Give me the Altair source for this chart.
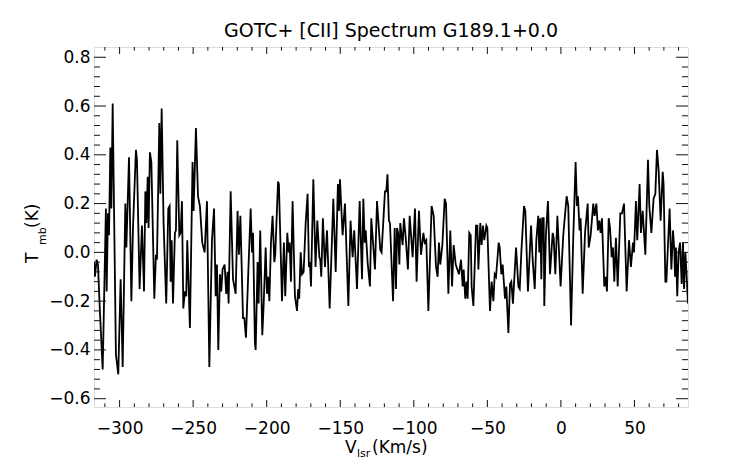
import altair as alt
import pandas as pd

FONT = "DejaVu Sans"

# ---- spectrum values (V_lsr km/s, T_mb K) ----
vel_a = [-317.4, -316.8, -315.6, -314.7, -313.4, -311.5, -309.3, -308.8, -307.9, -307.2,
         -306.3, -305.6, -304.7, -302.5, -300.9, -299.3, -297.9, -296.1, -295.4, -293.6,
         -292.0, -290.9, -288.9, -288.2, -286.4, -284.8, -283.4, -282.5, -281.8, -280.9,
         -280.3, -279.4, -278.4, -276.4, -275.3, -274.6, -273.0, -272.3, -271.4, -270.1,
         -268.3, -266.9, -266.0, -265.3, -264.6, -263.7, -262.4, -261.7, -260.8, -259.4,
         -258.5, -257.6, -256.7, -255.6, -254.7, -254.0, -252.2, -250.4, -249.7, -248.1,
         -246.7, -245.4, -243.8, -242.2, -240.6, -239.0, -237.2, -235.8, -234.7, -233.8,
         -232.9, -231.8, -230.9, -230.0, -228.6, -227.5, -226.6, -225.9, -224.5, -222.9,
         -221.1, -219.8, -218.9, -217.9]
tmb_a = [-0.04, -0.10, -0.03, -0.05, -0.24, -0.48, 0.18, -0.16, 0.16, 0.07,
         0.43, 0.18, 0.61, -0.42, -0.50, -0.11, -0.47, 0.20, 0.02, 0.39,
         -0.20, 0.10, 0.42, 0.38, -0.15, 0.11, -0.16, 0.25, 0.12, 0.31,
         0.10, 0.41, 0.37, -0.19, -0.01, -0.03, 0.53, 0.24, 0.59, 0.12,
         -0.21, 0.18, 0.19, -0.12, 0.05, -0.21, 0.08, 0.09, 0.46, 0.07,
         0.08, 0.21, -0.23, -0.16, -0.18, 0.05, -0.31, 0.37, 0.17, 0.51,
         0.23, 0.19, 0.04, 0.00, 0.21, -0.47, 0.05, 0.18, -0.18, -0.05,
         -0.40, -0.09, -0.16, -0.07, -0.05, -0.17, -0.08, -0.21, 0.25, -0.11,
         -0.17, 0.17, -0.01, 0.15]

vel_b = [-216.1, -215.2, -214.1, -212.5, -210.9, -210.0, -209.3, -208.0, -207.5, -206.2,
         -205.5, -204.4, -203.0, -202.1, -200.7, -199.8, -199.1, -198.2, -197.1, -196.0,
         -194.8, -194.2, -192.3, -191.7, -189.6, -188.3, -187.4, -186.0, -185.1, -184.4,
         -183.5, -182.4, -180.8, -179.4, -178.6, -177.9, -176.9, -176.0, -174.9, -173.5,
         -172.2, -171.3, -170.6, -169.9, -168.3, -166.8, -165.6, -164.2, -163.6, -162.9,
         -161.8, -160.4, -159.0, -157.2, -154.7, -153.1, -151.6, -150.9, -150.2, -148.4,
         -146.8, -144.5, -143.0, -141.6, -140.5, -138.6, -136.8, -135.2, -134.3, -133.4,
         -132.7, -131.4, -129.8, -128.9, -126.4, -125.0, -122.8, -121.9, -119.6, -118.7,
         -117.9]
tmb_b = [-0.27, -0.27, -0.35, -0.08, 0.18, 0.00, 0.08, -0.37, -0.40, -0.04,
         -0.21, 0.09, -0.34, -0.22, 0.02, -0.17, -0.10, -0.20, 0.04, 0.15,
         -0.04, -0.01, 0.29, 0.28, -0.20, 0.04, -0.18, 0.08, 0.00, 0.04,
         -0.12, 0.21, -0.18, -0.24, -0.15, -0.19, 0.00, -0.09, -0.08, 0.12,
         0.24, -0.06, -0.04, -0.14, 0.30, -0.06, 0.13, -0.02, -0.03, -0.10,
         0.14, -0.06, 0.09, -0.23, 0.22, -0.08, 0.28, 0.17, 0.30, 0.07,
         0.20, -0.22, 0.13, -0.02, 0.09, -0.15, 0.21, -0.11, 0.22, 0.04,
         0.09, -0.04, -0.14, 0.14, -0.07, 0.21, 0.01, 0.00, 0.25, 0.25,
         0.32]

vel_c = [-116.9, -116.2, -114.1, -113.0, -112.1, -111.4, -110.7, -109.8, -109.2, -108.3,
         -107.6, -106.7, -105.5, -104.0, -102.8, -100.8, -99.2, -98.1, -96.5, -95.1,
         -93.5, -92.6, -91.5, -90.1, -87.9, -86.5, -84.9, -83.8, -82.9, -82.0,
         -80.6, -79.0, -78.1, -76.5, -75.2, -74.0, -72.9, -71.5, -70.4, -69.3,
         -67.9, -66.8, -66.1, -65.0, -64.1, -63.4, -62.3, -61.3, -60.7, -59.5,
         -57.7, -56.8, -56.1, -54.8, -53.9, -53.0, -52.1, -50.7, -50.0, -48.2,
         -47.1, -45.9, -45.0, -44.1, -42.3, -41.6, -40.5, -39.6, -38.0, -37.1,
         -35.7, -34.6, -33.7, -32.6, -30.5, -28.9, -28.0, -26.9, -25.1, -24.2,
         -22.4, -20.3, -19.2, -17.8, -16.7]
tmb_c = [0.13, 0.12, -0.20, 0.10, -0.15, 0.10, 0.08, -0.05, 0.12, 0.07,
         0.03, 0.14, 0.06, -0.07, 0.15, -0.02, 0.18, -0.12, 0.17, -0.01,
         0.08, 0.04, 0.05, -0.24, 0.19, 0.15, -0.06, -0.10, 0.04, -0.05,
         0.03, 0.22, 0.20, -0.17, 0.09, -0.14, 0.03, -0.05, -0.07, -0.09,
         -0.03, -0.14, -0.07, -0.19, -0.12, -0.19, 0.08, 0.07, -0.14, -0.22,
         0.11, 0.11, -0.07, 0.12, 0.03, 0.11, 0.05, 0.11, 0.10, -0.24,
         -0.12, -0.20, -0.09, -0.10, 0.04, 0.02, -0.09, -0.05, -0.19, -0.14,
         -0.33, -0.13, -0.12, -0.21, 0.02, -0.14, -0.15, 0.00, 0.19, 0.17,
         -0.16, 0.11, -0.03, -0.15, 0.05]

vel_d = [-15.4, -14.7, -14.0, -13.3, -12.6, -11.7, -11.3, -10.2, -8.8, -7.4,
         -5.6, -4.9, -3.8, -2.4, -0.2, 1.6, 3.9, 5.0, 6.9, 8.4,
         10.0, 10.9, 11.6, 12.7, 13.4, 14.8, 16.4, 18.2, 18.9, 20.2,
         22.0, 22.9, 24.1, 25.2, 26.1, 27.0, 27.9, 29.5, 30.4, 31.3,
         32.5, 33.4, 34.5, 35.4, 36.3, 37.4, 38.6, 40.4, 41.5, 42.9,
         44.7, 46.3, 47.6, 49.0, 49.7, 51.0, 51.9, 53.5, 54.4, 55.6,
         57.4, 59.2, 60.1, 61.5, 63.0, 64.2, 65.3, 66.4, 67.8, 69.2,
         69.8, 71.0, 71.7, 73.9, 75.1, 76.2, 77.1, 77.6, 78.2, 79.1,
         80.0, 81.0, 82.1, 83.0, 83.7, 84.6, 85.5, 86.4]
tmb_d = [0.15, 0.00, 0.14, -0.11, 0.14, 0.14, -0.22, 0.07, 0.21, -0.09,
         0.08, 0.06, -0.09, 0.15, -0.14, 0.07, 0.23, 0.19, -0.30, 0.06,
         0.37, 0.19, 0.23, 0.09, 0.14, -0.17, 0.08, 0.20, 0.02, 0.07,
         0.20, 0.15, 0.20, 0.09, 0.13, 0.08, 0.14, -0.14, -0.10, -0.16,
         0.14, 0.10, -0.02, 0.02, -0.12, 0.06, -0.14, 0.16, 0.16, 0.20,
         -0.16, 0.05, -0.06, 0.04, 0.00, 0.21, 0.05, 0.28, 0.08, 0.17,
         -0.01, 0.38, 0.19, 0.08, 0.22, 0.24, 0.42, 0.34, 0.13, 0.33,
         0.28, -0.12, -0.12, 0.18, -0.07, 0.09, 0.01, -0.10, 0.02, -0.18,
         0.00, 0.04, -0.13, 0.04, -0.15, 0.00, -0.10, -0.21]

# ---- axes ----
x_domain = [-317.4, 86.4]
y_domain = [-0.634, 0.842]
x_major = [-300, -250, -200, -150, -100, -50, 0, 50]
x_minor = [-310, -290, -280, -270, -260, -240, -230, -220, -210, -190, -180, -170, -160,
           -140, -130, -120, -110, -90, -80, -70, -60, -40, -30, -20, -10,
           10, 20, 30, 40, 60, 70, 80]
y_major = [-0.6, -0.4, -0.2, 0.0, 0.2, 0.4, 0.6, 0.8]
y_minor = [-0.56, -0.52, -0.48, -0.44, -0.36, -0.32, -0.28, -0.24, -0.16, -0.12, -0.08, -0.04,
           0.04, 0.08, 0.12, 0.16, 0.24, 0.28, 0.32, 0.36, 0.44, 0.48, 0.52, 0.56,
           0.64, 0.68, 0.72, 0.76]

title_text = "GOTC+ [CII] Spectrum G189.1+0.0"
xlab_main, xlab_sub, xlab_unit = "V", "lsr", "(Km/s)"
ylab_main, ylab_sub, ylab_unit = "T", "mb", "(K)"

for a, b in [(vel_a, tmb_a), (vel_b, tmb_b), (vel_c, tmb_c), (vel_d, tmb_d)]:
    assert len(a) == len(b), (len(a), len(b))

W, H = 594, 360
INK = "#111111"

xs = alt.Scale(domain=x_domain, nice=False, zero=False)
ys = alt.Scale(domain=y_domain, nice=False, zero=False)

x_axis = alt.Axis(values=x_major, format="d", ticks=False, tickSize=0,
                  domain=False, grid=False, labelPadding=13,
                  labelFont=FONT, labelFontSize=17, labelColor="black",
                  title=None)
y_axis = alt.Axis(values=y_major, format=".1f", ticks=False, tickSize=0,
                  domain=False, grid=False, labelPadding=4,
                  labelFont=FONT, labelFontSize=17, labelColor="black",
                  title=None)

spec = pd.DataFrame({"v": vel_a + vel_b + vel_c + vel_d,
                     "T": tmb_a + tmb_b + tmb_c + tmb_d})

line = alt.Chart(spec).mark_line(color="black", strokeWidth=1.8, clip=True).encode(
    x=alt.X("v:Q", scale=xs, axis=x_axis),
    y=alt.Y("T:Q", scale=ys, axis=y_axis),
)


def xticks(vals, length):
    df = pd.DataFrame({"v": vals})
    base = alt.Chart(df).mark_rule(color=INK, strokeWidth=1)
    bottom = base.encode(x=alt.X("v:Q", scale=xs, axis=x_axis),
                         y=alt.value(H), y2=alt.value(H - length))
    top = base.encode(x=alt.X("v:Q", scale=xs, axis=x_axis),
                      y=alt.value(0), y2=alt.value(length))
    return [bottom, top]


def yticks(vals, length):
    df = pd.DataFrame({"T": vals})
    base = alt.Chart(df).mark_rule(color=INK, strokeWidth=1)
    left = base.encode(y=alt.Y("T:Q", scale=ys, axis=y_axis),
                       x=alt.value(0), x2=alt.value(length))
    right = base.encode(y=alt.Y("T:Q", scale=ys, axis=y_axis),
                        x=alt.value(W), x2=alt.value(W - length))
    return [left, right]


one = pd.DataFrame({"a": [0]})


def label(text, x, y, size, angle=0, align="left"):
    return alt.Chart(one).mark_text(text=text, font=FONT, fontSize=size, color="black",
                                    align=align, baseline="alphabetic",
                                    angle=angle).encode(x=alt.value(x), y=alt.value(y))


texts = [
    label(title_text, W / 2, -10, 19, align="center"),
    label(xlab_main, 251, 406, 17),
    label(xlab_sub, 263, 410, 11),
    label(xlab_unit, 278, 406, 17),
    label(ylab_main, -56, 216, 17, angle=270),
    label(ylab_sub, -48, 198, 11, angle=270),
    label(ylab_unit, -56, 181, 17, angle=270),
]

layers = [line] + xticks(x_major, 7) + xticks(x_minor, 3.6) + \
    yticks(y_major, 12) + yticks(y_minor, 6) + texts

chart = alt.layer(*layers).properties(
    width=W, height=H,
    padding={"left": 86, "top": 39, "right": 40, "bottom": 56},
    autosize=alt.AutoSizeParams(type="none"),
).configure_view(stroke=INK, strokeWidth=1).configure(background="white")

chart.save("out.html", embed_options={"renderer": "svg", "actions": False})
